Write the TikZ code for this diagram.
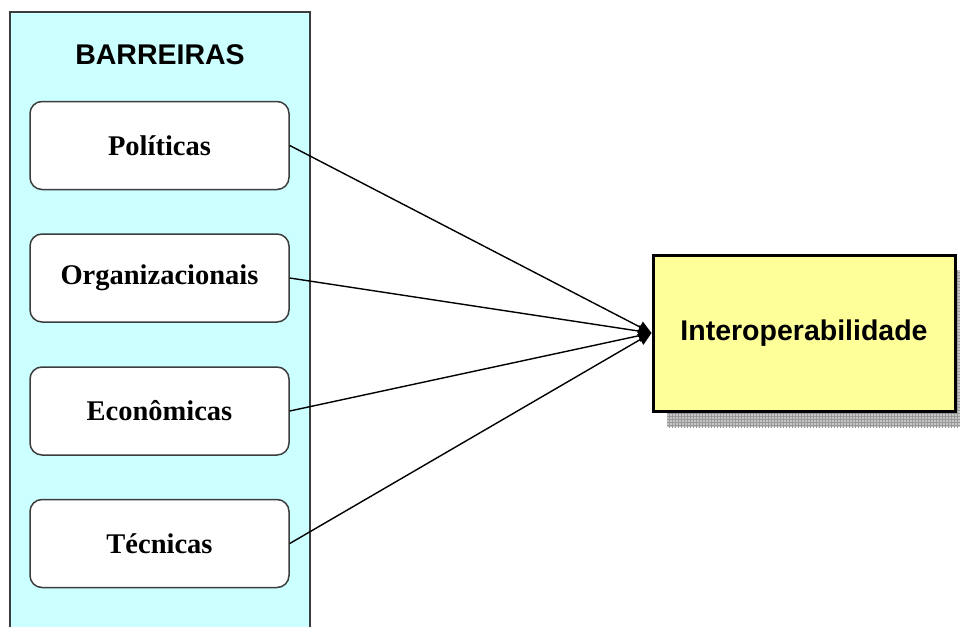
\documentclass[tikz,border=0pt]{standalone}
\usepackage{fontspec}
\setmainfont{Liberation Serif}
\newfontfamily\headfont{Liberation Sans}
\usetikzlibrary{arrows.meta,patterns}
\definecolor{panelcyan}{RGB}{204,255,255}
\definecolor{panelline}{RGB}{60,60,60}
\definecolor{targetyellow}{RGB}{255,255,153}
\tikzset{
  barrier/.style={draw=panelline, line width=1.5pt, fill=white, rounded corners=12pt,
    minimum width=259pt, minimum height=88pt, inner sep=0pt,
    font=\fontsize{28.5}{33}\selectfont\bfseries},
  target/.style={draw=black, line width=3pt, fill=targetyellow,
    minimum width=302pt, minimum height=156pt, inner sep=0pt,
    font=\headfont\fontsize{28.5}{33}\selectfont\bfseries},
  link/.style={draw=black, line width=1.4pt, -{Triangle[length=13pt,width=12pt]}},
}
\begin{document}
\begin{tikzpicture}[x=1pt,y=-1pt]
  \useasboundingbox (0,0) rectangle (960,626);
  \clip (0,0) rectangle (960,626);
  \fill[white] (0,0) rectangle (960,626);

  % barriers panel
  \draw[panelline, line width=1.5pt, fill=panelcyan] (10,12) rectangle (310,660);
  \node[font=\headfont\fontsize{28.5}{33}\selectfont\bfseries] (title) at (160,55) {BARREIRAS};

  \node[barrier] (pol) at (159.5,145.5) {Políticas};
  \node[barrier] (org) at (159.5,278) {Organizacionais};
  \node[barrier] (eco) at (159.5,411) {Econômicas};
  \node[barrier] (tec) at (159.5,543.5) {Técnicas};

  % shadow of the target box
  \fill[gray!45] (667,270) rectangle (968,427);
  \fill[pattern=grid, pattern color=gray!80] (667,270) rectangle (968,427);

  \node[target] (inter) at (804,333) {Interoperabilidade};

  \draw[link] (pol.east) -- (inter.west);
  \draw[link] (org.east) -- (inter.west);
  \draw[link] (eco.east) -- (inter.west);
  \draw[link] (tec.east) -- (inter.west);
\end{tikzpicture}
\end{document}
